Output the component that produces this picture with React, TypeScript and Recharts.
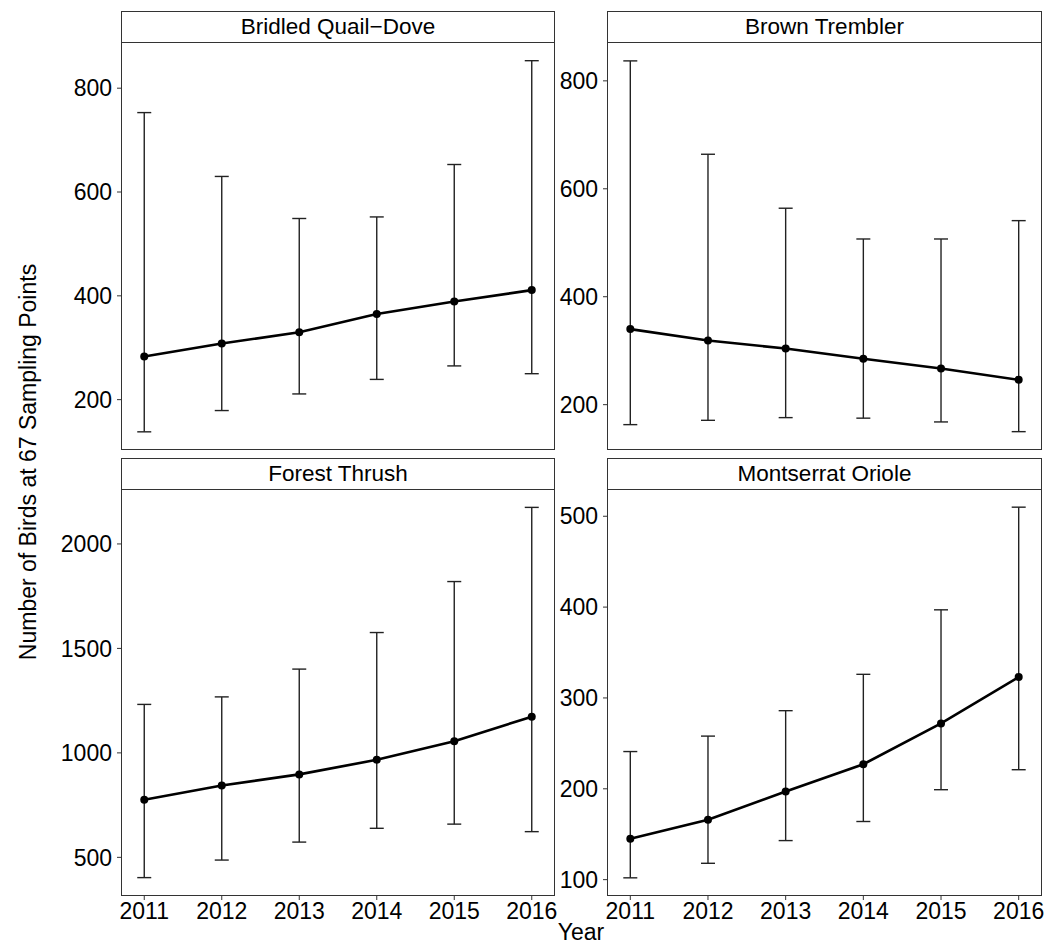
import { ComposedChart, Line, XAxis, YAxis, ErrorBar } from "recharts"

const years = [2011, 2012, 2013, 2014, 2015, 2016]

const quailDoveMean = [283, 308, 330, 365, 389, 411]
const quailDoveLow = [138, 179, 211, 239, 265, 250]
const quailDoveHigh = [753, 630, 549, 552, 653, 853]

const tremblerMean = [340, 319, 304, 285, 267, 246]
const tremblerLow = [163, 171, 176, 175, 168, 150]
const tremblerHigh = [837, 664, 564, 507, 507, 541]

const thrushMean = [776, 844, 897, 967, 1056, 1173]
const thrushLow = [403, 487, 573, 639, 659, 623]
const thrushHigh = [1232, 1268, 1401, 1576, 1820, 2175]

const orioleMean = [145, 166, 197, 227, 272, 323]
const orioleLow = [102, 118, 143, 164, 199, 221]
const orioleHigh = [241, 258, 286, 326, 397, 510]

const quailDoveTicks = [200, 400, 600, 800]
const tremblerTicks = [200, 400, 600, 800]
const thrushTicks = [500, 1000, 1500, 2000]
const oriolesTicks = [100, 200, 300, 400, 500]

const FONT = "'Liberation Sans', Arial, sans-serif"
const FS = 23
const STRIP = 31
const YW = 80
const XH = 40
const RM = 30 // room on the right so the last year label is not clipped
const BORDER = "1.2px solid #333"

interface PanelProps {
  title: string
  means: number[]
  lows: number[]
  highs: number[]
  domain: [number, number]
  ticks: number[]
  left: number
  top: number
  width: number
  height: number
  showX?: boolean
}

const Panel = ({ title, means, lows, highs, domain, ticks, left, top, width, height, showX = false }: PanelProps) => {
  const data = years.map((year, i) => ({
    year,
    value: means[i],
    err: [means[i] - lows[i], highs[i] - means[i]],
  }))

  return (
    <>
      <div
        style={{
          position: "absolute",
          left,
          top: top - STRIP,
          width,
          height: STRIP + 1,
          border: BORDER,
          boxSizing: "border-box",
          display: "flex",
          alignItems: "center",
          justifyContent: "center",
          fontSize: 22.5,
          color: "#000",
          background: "#fff",
        }}
      >
        {title}
      </div>
      <div style={{ position: "absolute", left: left - YW, top }}>
        <ComposedChart
          width={YW + width + RM}
          height={height + (showX ? XH : 0)}
          data={data}
          margin={{ top: 0, right: RM, bottom: 0, left: 0 }}
          style={{ overflow: "visible" }}
        >
          <XAxis
            type="number"
            dataKey="year"
            domain={[2010.7, 2016.3]}
            ticks={years}
            interval={0}
            allowDataOverflow
            hide={!showX}
            height={XH}
            axisLine={false}
            tickLine={{ stroke: "#333" }}
            tickSize={4}
            tickMargin={3}
            tick={{ fill: "#000", fontSize: FS, fontFamily: FONT }}
          />
          <YAxis
            type="number"
            domain={domain}
            ticks={ticks}
            interval={0}
            allowDataOverflow
            width={YW}
            axisLine={false}
            tickLine={{ stroke: "#333" }}
            tickSize={4}
            tickMargin={5}
            tick={{ fill: "#000", fontSize: FS, fontFamily: FONT }}
          />
          <Line
            dataKey="value"
            stroke="#000"
            strokeWidth={2.6}
            dot={{ r: 4, fill: "#000", stroke: "#000", strokeWidth: 0 }}
            activeDot={false}
            isAnimationActive={false}
          >
            <ErrorBar dataKey="err" direction="y" width={7} stroke="#222" strokeWidth={1.4} isAnimationActive={false} />
          </Line>
        </ComposedChart>
      </div>
      <div
        style={{
          position: "absolute",
          left,
          top,
          width,
          height,
          border: BORDER,
          boxSizing: "border-box",
          pointerEvents: "none",
        }}
      />
    </>
  )
}

const App = () => {
  return (
    <div
      style={{
        position: "absolute",
        left: 0,
        top: 0,
        width: 1046,
        height: 944,
        background: "#fff",
        fontFamily: FONT,
        overflow: "hidden",
      }}
    >
      <Panel
        title="Bridled Quail−Dove"
        means={quailDoveMean}
        lows={quailDoveLow}
        highs={quailDoveHigh}
        domain={[103, 889]}
        ticks={quailDoveTicks}
        left={121}
        top={42}
        width={434}
        height={408}
      />
      <Panel
        title="Brown Trembler"
        means={tremblerMean}
        lows={tremblerLow}
        highs={tremblerHigh}
        domain={[116, 872]}
        ticks={tremblerTicks}
        left={607}
        top={42}
        width={435}
        height={408}
      />
      <Panel
        title="Forest Thrush"
        means={thrushMean}
        lows={thrushLow}
        highs={thrushHigh}
        domain={[315, 2263]}
        ticks={thrushTicks}
        left={121}
        top={489}
        width={434}
        height={407}
        showX
      />
      <Panel
        title="Montserrat Oriole"
        means={orioleMean}
        lows={orioleLow}
        highs={orioleHigh}
        domain={[82, 530]}
        ticks={oriolesTicks}
        left={607}
        top={489}
        width={435}
        height={407}
        showX
      />
      <div
        style={{
          position: "absolute",
          left: 28,
          top: 462,
          transform: "translate(-50%, -50%) rotate(-90deg)",
          whiteSpace: "nowrap",
          fontSize: FS,
          lineHeight: 1,
          color: "#000",
        }}
      >
        Number of Birds at 67 Sampling Points
      </div>
      <div
        style={{
          position: "absolute",
          left: 581,
          top: 921,
          transform: "translateX(-50%)",
          whiteSpace: "nowrap",
          fontSize: FS,
          lineHeight: 1,
          color: "#000",
        }}
      >
        Year
      </div>
    </div>
  )
}

export default App
